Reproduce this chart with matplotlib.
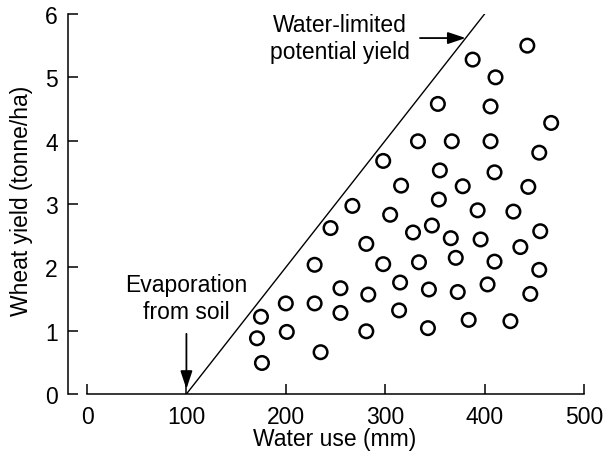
import matplotlib.pyplot as plt

plt.rcParams['font.family'] = ['Liberation Sans', 'DejaVu Sans']

# water use (mm) and wheat yield (tonne/ha)
water_use = [176, 171, 175, 201, 200, 229, 229, 235, 245, 255, 255, 267, 281, 283,
             281, 298, 298, 305, 315, 314, 316, 328, 333, 334, 343, 344, 347, 353,
             354, 355, 366, 367, 371, 373, 378, 384, 388, 393, 396, 403, 406, 406,
             410, 410, 411, 426, 429, 436, 443, 444, 446, 455, 455, 456, 467]
wheat_yield = [0.49, 0.88, 1.22, 0.98, 1.43, 1.43, 2.04, 0.66, 2.62, 1.67, 1.28, 2.97,
               2.37, 1.57, 0.99, 3.68, 2.05, 2.83, 1.76, 1.32, 3.29, 2.55, 3.99, 2.08,
               1.04, 1.65, 2.66, 4.58, 3.07, 3.53, 2.46, 3.99, 2.15, 1.61, 3.28, 1.17,
               5.28, 2.90, 2.44, 1.73, 4.54, 3.99, 3.50, 2.09, 5.00, 1.15, 2.88, 2.32,
               5.50, 3.27, 1.58, 3.81, 1.96, 2.57, 4.28]

# water-limited potential yield line
limit_x = [100, 400]
limit_y = [0, 6]

xticks = [0, 100, 200, 300, 400, 500]
yticks = [0, 1, 2, 3, 4, 5, 6]

fig = plt.figure(figsize=(6.09, 4.64), dpi=100)
ax = fig.add_axes([0.1429, 0.1487, 0.816, 0.819])

ax.plot(limit_x, limit_y, color='black', lw=1.0)
ax.scatter(water_use, wheat_yield, s=95, facecolors='none', edgecolors='black',
           linewidths=1.8, clip_on=False, zorder=3)

ax.set_xlim(0, 500)
ax.set_ylim(0, 6)
ax.set_xticks(xticks)
ax.set_yticks(yticks)

for side in ['top', 'right']:
    ax.spines[side].set_visible(False)
ax.spines['left'].set_position(('outward', 14))
for side in ['left', 'bottom']:
    ax.spines[side].set_linewidth(1.1)
ax.tick_params(direction='in', length=7, width=1.1, labelsize=16.5)
ax.tick_params(axis='x', pad=8)
ax.tick_params(axis='y', pad=7)

ax.set_xlabel('Water use (mm)', fontsize=16.5)
ax.set_ylabel('Wheat yield (tonne/ha)', fontsize=16.5)
ax.xaxis.set_label_coords(0.499, -0.116)
ax.xaxis.label.set_va('center')
ax.yaxis.set_label_coords(-0.131, 0.51)
ax.yaxis.label.set_va('center')

# annotations
ax.annotate('Water-limited\npotential yield', xy=(381, 5.62), xytext=(254, 5.62),
            ha='center', va='center', fontsize=16.5, linespacing=1.2,
            annotation_clip=False)
ax.annotate('', xy=(381, 5.62), xytext=(335, 5.62),
            arrowprops=dict(arrowstyle='-|>,head_length=0.6,head_width=0.2',
                            color='black', lw=1.3, mutation_scale=18,
                            shrinkA=0, shrinkB=0))

ax.text(100, 1.52, 'Evaporation\nfrom soil', ha='center', va='center',
        fontsize=16.5, linespacing=1.2)
ax.annotate('', xy=(100, 0.08), xytext=(100, 0.95),
            arrowprops=dict(arrowstyle='-|>,head_length=0.6,head_width=0.2',
                            color='black', lw=1.3, mutation_scale=18,
                            shrinkA=0, shrinkB=0))

fig.savefig('out.png', dpi=100, facecolor='white')
